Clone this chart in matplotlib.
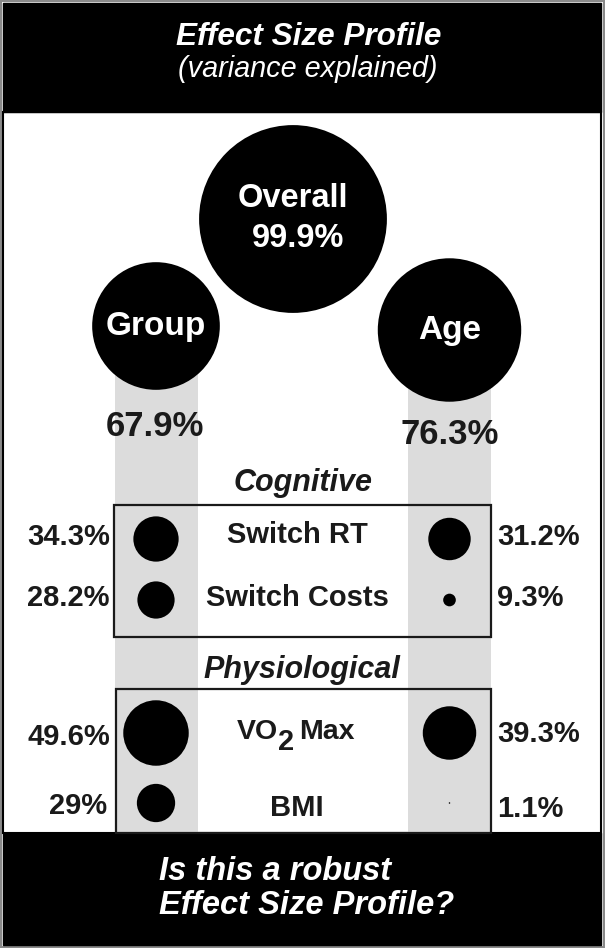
import matplotlib.pyplot as plt
from matplotlib.patches import Rectangle, Circle

plt.rcParams['font.family'] = ['Liberation Sans', 'DejaVu Sans']

# 数据
top_labels = ["Overall", "Group", "Age"]
top_values = [99.9, 67.9, 76.3]
domains = ["Cognitive", "Physiological"]
measures = ["Switch RT", "Switch Costs", "VO2 Max", "BMI"]
group_values = [34.3, 28.2, 49.6, 29]
age_values = [31.2, 9.3, 39.3, 1.1]

GRAY = '#dcdcdc'
INK = '#1a1a1a'

fig = plt.figure(figsize=(6.05, 9.48), dpi=100)
ax = fig.add_axes([0, 0, 1, 1])
ax.set_xlim(0, 605)
ax.set_ylim(948, 0)
ax.axis('off')

# 外框、页眉、页脚
ax.add_patch(Rectangle((1, 1), 603, 946, fill=False, ec='#8a8a8a', lw=1.5))
ax.add_patch(Rectangle((3, 3), 598, 109, fc='black', ec='black'))
ax.add_patch(Rectangle((3, 112), 598, 721, fill=False, ec='black', lw=1.5))
ax.add_patch(Rectangle((3, 833), 598, 112, fc='black', ec='black'))

ax.text(309, 37, "Effect Size Profile", color='white', fontsize=22.7,
        fontweight='bold', fontstyle='italic', ha='center', va='center')
ax.text(308, 69, "(variance explained)", color='white', fontsize=20.8,
        fontstyle='italic', ha='center', va='center')
ax.text(159, 871, "Is this a robust", color='white', fontsize=23.5,
        fontweight='bold', fontstyle='italic', ha='left', va='center')
ax.text(159, 906, "Effect Size Profile?", color='white', fontsize=23.5,
        fontweight='bold', fontstyle='italic', ha='left', va='center')

# 灰色列
col_x = [156, 449.5]
for cx in col_x:
    ax.add_patch(Rectangle((cx - 41.5, 330), 83, 503, fc=GRAY, ec='none'))

# 顶部三个圆（半径与数值成正比）
top_pos = [(293, 219), (156, 326), (449.5, 330)]
for (cx, cy), lab, v in zip(top_pos, top_labels, top_values):
    ax.add_patch(Circle((cx, cy), 0.94 * v, fc='black', ec='none', zorder=3))
    if lab == "Overall":
        ax.text(cx, cy - 21, lab, color='white', fontsize=23.5, fontweight='bold',
                ha='center', va='center', zorder=4)
        ax.text(cx + 5, cy + 19, "{0:g}%".format(v), color='white', fontsize=23.5,
                fontweight='bold', ha='center', va='center', zorder=4)
    else:
        ax.text(cx, cy + 1, lab, color='white', fontsize=24, fontweight='bold',
                ha='center', va='center', zorder=4)
ax.text(155, 427, "{0:g}%".format(top_values[1]), color=INK, fontsize=25,
        fontweight='bold', ha='center', va='center')
ax.text(450, 434, "{0:g}%".format(top_values[2]), color=INK, fontsize=25,
        fontweight='bold', ha='center', va='center')

# 分组框
ax.add_patch(Rectangle((114, 505), 377, 132, fill=False, ec=INK, lw=1.6, zorder=2))
ax.add_patch(Rectangle((116, 689), 375, 144, fill=False, ec=INK, lw=1.6, zorder=2))
ax.text(303, 483, domains[0], color=INK, fontsize=22, fontweight='bold',
        fontstyle='italic', ha='center', va='center')
ax.text(302, 670, domains[1], color=INK, fontsize=22, fontweight='bold',
        fontstyle='italic', ha='center', va='center')

# 各指标行
row_y = [539, 600, 733, 803]
text_y = [535, 598, 732, 808]
left_y = [537, 598, 737, 806]
right_y = [537, 598, 734, 809]
for i, m in enumerate(measures):
    g, a, y = group_values[i], age_values[i], row_y[i]
    ax.add_patch(Circle((col_x[0], y), 0.66 * g, fc='black', ec='none', zorder=3))
    ax.add_patch(Circle((col_x[1], y), 0.68 * a, fc='black', ec='none', zorder=3))
    ax.text(110 if g >= 10 and g % 1 else 107, left_y[i], "{0:g}%".format(g),
            color=INK, fontsize=21, fontweight='bold', ha='right', va='center')
    ax.text(497, right_y[i], "{0:g}%".format(a), color=INK, fontsize=21,
            fontweight='bold', ha='left', va='center')
    if m == "VO2 Max":
        ax.text(278, text_y[i], "VO", color=INK, fontsize=20.5, fontweight='bold',
                ha='right', va='center')
        ax.text(278, text_y[i] + 10, "2", color=INK, fontsize=21, fontweight='bold',
                ha='left', va='center')
        ax.text(299, text_y[i], "Max", color=INK, fontsize=20.5, fontweight='bold',
                ha='left', va='center')
    else:
        ax.text(297, text_y[i], m, color=INK, fontsize=21, fontweight='bold',
                ha='center', va='center')

fig.savefig('out.png', dpi=100)
